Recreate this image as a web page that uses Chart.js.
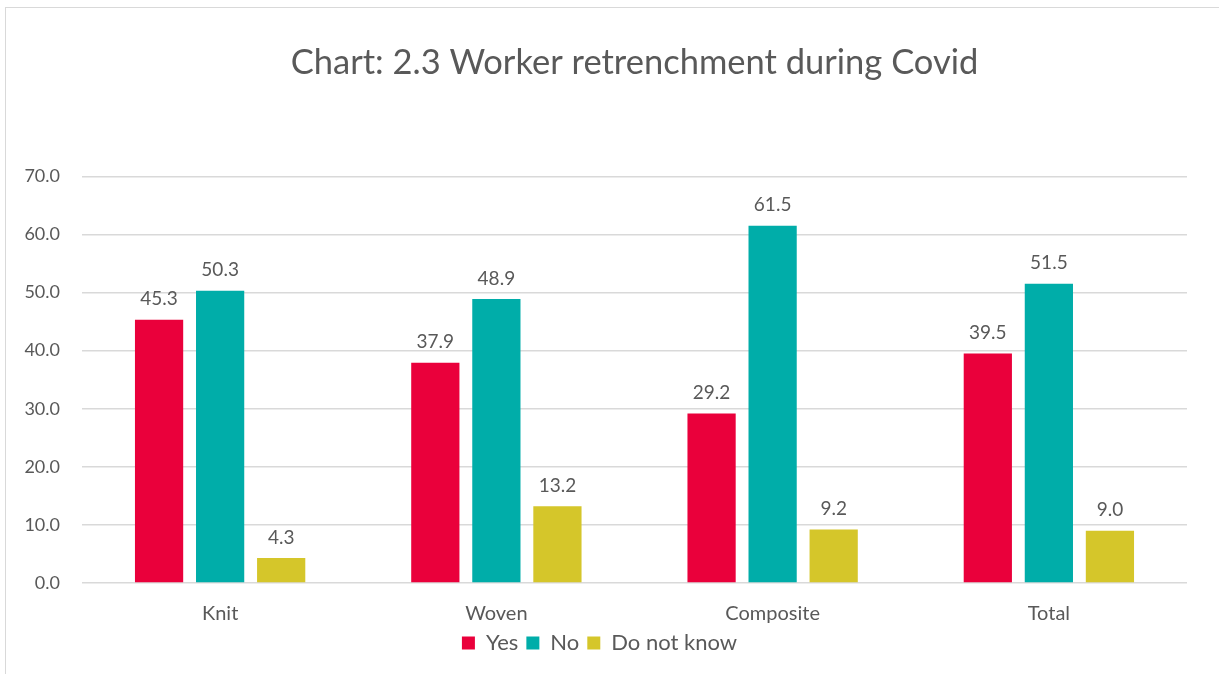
<!DOCTYPE html>
<html>
<head>
<meta charset="utf-8">
<script src="https://cdn.jsdelivr.net/npm/chart.js@4"></script>
<style>
    body { margin: 0; background: #fff; }
    #frame {
        position: absolute; left: 5px; top: 7px; width: 1300px; height: 700px;
        border: 1.5px solid #d9d9d9; box-sizing: border-box;
    }
    #wrap { position: absolute; left: 0; top: 0; width: 1219px; height: 674px; }
</style>
</head>
<body>
<div id="frame"></div>
<div id="wrap"><canvas id="myChart" width="1219" height="674"></canvas></div>
<script>
const categories = ['Knit', 'Woven', 'Composite', 'Total'];
const yesValues = [45.3, 37.9, 29.2, 39.5];
const noValues = [50.3, 48.9, 61.5, 51.5];
const dontKnowValues = [4.3, 13.2, 9.2, 9.0];
const yTicks = [0, 10, 20, 30, 40, 50, 60, 70];

const fontName = 'Lato, "Open Sans", sans-serif';
const textColor = '#595959';

// value labels above bars
const valueLabels = {
    id: 'valueLabels',
    afterDatasetsDraw: function (chart) {
        const ctx = chart.ctx;
        ctx.save();
        ctx.textAlign = 'center';
        ctx.textBaseline = 'bottom';
        ctx.fillStyle = textColor;
        ctx.font = '19px ' + fontName;
        chart.data.datasets.forEach(function (dataset, i) {
            const meta = chart.getDatasetMeta(i);
            meta.data.forEach(function (bar, index) {
                const v = dataset.data[index];
                if (v !== null && v !== undefined) {
                    ctx.fillText(v.toFixed(1), bar.x, bar.y - 11);
                }
            });
        });
        ctx.restore();
    }
};

document.addEventListener('DOMContentLoaded', function () {
    const ctx = document.getElementById('myChart').getContext('2d');

    new Chart(ctx, {
        type: 'bar',
        data: {
            labels: categories,
            datasets: [
                { label: 'Yes', data: yesValues, backgroundColor: '#EA003B' },
                { label: 'No', data: noValues, backgroundColor: '#00ADA9' },
                { label: 'Do not know', data: dontKnowValues, backgroundColor: '#D5C62A' }
            ]
        },
        options: {
            responsive: false,
            animation: false,
            layout: { padding: { left: 12, right: 32, top: 0, bottom: 10 } },
            datasets: {
                bar: { categoryPercentage: 0.663, barPercentage: 0.79 }
            },
            plugins: {
                title: {
                    display: true,
                    fullSize: false,
                    text: 'Chart: 2.3 Worker retrenchment during Covid',
                    color: textColor,
                    font: { family: fontName, size: 34.5, weight: 'normal' },
                    padding: { top: 42, bottom: 93 }
                },
                legend: {
                    position: 'bottom',
                    labels: {
                        color: textColor,
                        font: { family: fontName, size: 22 },
                        boxWidth: 13,
                        boxHeight: 13,
                        padding: 8
                    }
                },
                tooltip: { enabled: false }
            },
            scales: {
                x: {
                    clip: false,
                    grid: { display: false, drawTicks: false },
                    border: { display: false },
                    afterFit: function (axis) { axis.height = 41; },
                    ticks: { color: textColor, font: { family: fontName, size: 20 }, padding: 19 }
                },
                y: {
                    min: 0,
                    max: 70,
                    afterBuildTicks: function (axis) {
                        axis.ticks = yTicks.map(function (v) { return { value: v }; });
                    },
                    afterFit: function (axis) { axis.width = 70; },
                    grid: { color: '#d9d9d9', lineWidth: 1.5, drawTicks: false },
                    border: { display: false },
                    ticks: {
                        color: textColor,
                        font: { family: fontName, size: 18 },
                        padding: 22,
                        callback: function (v) { return Number(v).toFixed(1); }
                    }
                }
            }
        },
        plugins: [valueLabels]
    });
});
</script>
</body>
</html>
